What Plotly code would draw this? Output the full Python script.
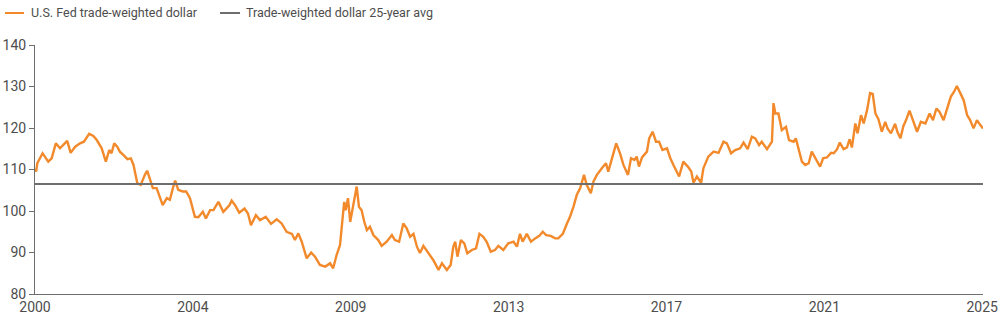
import plotly.graph_objects as go

# Years since 2000 (fractional) and index values
year_offsets = [
    0.00, 0.03, 0.06, 0.20, 0.26, 0.35, 0.44, 0.55, 0.66, 0.75, 0.85, 0.94,
    1.06, 1.19, 1.29, 1.43, 1.54, 1.63, 1.76, 1.87, 1.96, 2.02, 2.09, 2.17,
    2.24, 2.33, 2.44, 2.53, 2.60, 2.70, 2.79, 2.90, 2.96, 3.04, 3.11, 3.21,
    3.30, 3.37, 3.48, 3.56, 3.64, 3.70, 3.78, 3.90, 3.99, 4.09, 4.22, 4.31,
    4.43, 4.51, 4.62, 4.71, 4.84, 4.97, 5.13, 5.19, 5.28, 5.39, 5.53, 5.62,
    5.70, 5.83, 5.94, 6.09, 6.23, 6.38, 6.51, 6.64, 6.78, 6.86, 6.95, 7.04,
    7.17, 7.29, 7.39, 7.52, 7.66, 7.79, 7.87, 7.96, 8.05, 8.11, 8.16, 8.20,
    8.26, 8.32, 8.40, 8.49, 8.55, 8.62, 8.69, 8.76, 8.84, 8.93, 9.06, 9.15,
    9.28, 9.42, 9.50, 9.61, 9.72, 9.81, 9.90, 9.99, 10.08, 10.16, 10.25, 10.38,
    10.51, 10.65, 10.74, 10.87, 10.97, 11.04, 11.09, 11.15, 11.24, 11.33, 11.41, 11.53,
    11.64, 11.73, 11.83, 11.92, 12.03, 12.14, 12.23, 12.36, 12.49, 12.63, 12.72, 12.80,
    12.87, 12.98, 13.09, 13.20, 13.31, 13.40, 13.49, 13.61, 13.73, 13.81, 13.93, 14.04,
    14.12, 14.21, 14.30, 14.39, 14.49, 14.56, 14.67, 14.74, 14.83, 14.96, 15.07, 15.13,
    15.22, 15.34, 15.44, 15.53, 15.65, 15.73, 15.82, 15.88, 15.94, 16.02, 16.15, 16.21,
    16.30, 16.39, 16.47, 16.56, 16.68, 16.76, 16.85, 17.00, 17.11, 17.23, 17.32, 17.38,
    17.47, 17.58, 17.64, 17.77, 17.91, 18.04, 18.17, 18.26, 18.37, 18.48, 18.61, 18.70,
    18.81, 18.92, 19.01, 19.11, 19.18, 19.32, 19.45, 19.49, 19.54, 19.62, 19.71, 19.82,
    19.90, 20.02, 20.08, 20.15, 20.24, 20.33, 20.42, 20.50, 20.59, 20.72, 20.80, 20.90,
    21.01, 21.08, 21.17, 21.24, 21.34, 21.43, 21.50, 21.56, 21.65, 21.71, 21.80, 21.87,
    21.96, 22.04, 22.11, 22.18, 22.26, 22.35, 22.44, 22.50, 22.59, 22.70, 22.76, 22.84,
    22.92, 22.99, 23.08, 23.19, 23.28, 23.38, 23.50, 23.61, 23.70, 23.79, 23.87, 23.98,
    24.07, 24.17, 24.26, 24.33, 24.42, 24.51, 24.60, 24.68, 24.77, 24.86, 24.95, 25.02,
]

dollar_values = [
    110.2, 109.5, 111.5, 113.9, 113.1, 111.9, 112.7, 116.3, 115.1, 115.9, 116.9, 114.0,
    115.5, 116.3, 116.7, 118.6, 118.1, 117.1, 115.1, 111.9, 114.7, 113.9, 116.3, 115.5,
    114.3, 113.5, 112.5, 112.7, 111.1, 106.7, 106.3, 108.7, 109.7, 107.5, 105.5, 105.5,
    103.4, 101.4, 103.1, 102.7, 105.5, 107.3, 105.1, 104.7, 104.7, 103.1, 98.6, 98.5,
    99.8, 98.2, 100.2, 100.2, 102.2, 99.8, 101.4, 102.5, 101.4, 99.6, 100.6, 99.4,
    96.6, 99.0, 97.8, 98.6, 96.9, 98.0, 97.0, 95.0, 94.5, 93.0, 94.6, 92.6,
    88.6, 90.0, 89.0, 87.0, 86.6, 87.4, 86.2, 89.4, 91.8, 97.8, 102.2, 100.2,
    103.1, 97.4, 101.8, 105.9, 101.0, 100.2, 97.4, 95.4, 96.2, 94.2, 93.0, 91.6,
    92.6, 94.2, 93.0, 92.6, 97.0, 95.8, 93.8, 94.5, 91.4, 89.9, 91.6, 89.8,
    88.2, 85.8, 87.4, 85.8, 87.0, 91.4, 92.6, 89.0, 93.0, 92.2, 89.8, 90.6,
    91.0, 94.5, 93.8, 92.6, 90.2, 90.6, 91.6, 90.6, 92.2, 92.6, 91.4, 94.5,
    92.6, 94.5, 92.6, 93.4, 94.0, 95.0, 94.2, 94.0, 93.4, 93.4, 94.5, 97.0,
    98.6, 101.0, 103.9, 105.5, 108.7, 106.3, 104.3, 107.1, 108.7, 110.3, 111.5, 109.5,
    112.3, 116.3, 113.9, 111.1, 108.7, 112.7, 112.3, 113.1, 110.7, 112.9, 114.3, 117.5,
    119.1, 116.7, 116.7, 114.7, 115.1, 112.9, 111.1, 108.3, 111.9, 110.7, 109.5, 106.8,
    108.3, 106.8, 110.3, 113.1, 114.3, 114.0, 116.7, 116.3, 113.9, 114.7, 115.1, 116.5,
    114.9, 117.9, 117.5, 115.9, 116.7, 114.9, 116.7, 126.0, 123.5, 123.5, 119.5, 120.3,
    117.1, 116.7, 117.5, 114.7, 111.9, 111.1, 111.5, 114.3, 112.7, 110.7, 112.7, 112.9,
    114.0, 113.9, 114.9, 116.5, 114.9, 115.3, 117.3, 115.3, 121.1, 118.7, 123.1, 121.1,
    124.3, 128.4, 128.2, 123.5, 122.1, 119.1, 121.5, 119.9, 118.7, 121.0, 119.1, 117.5,
    120.5, 121.9, 124.2, 121.1, 119.1, 121.5, 121.1, 123.5, 121.9, 124.7, 123.9, 121.9,
    124.3, 127.5, 128.8, 130.1, 128.4, 126.7, 123.1, 121.9, 119.9, 121.9, 120.7, 119.9,
]

avg_25yr = 106.5
start_year = 2000
end_year = 2025.02

tick_positions = [0, 1, 2, 3, 4, 5, 6]
tick_labels = ["2000", "2004", "2009", "2013", "2017", "2021", "2025"]
y_ticks = [80, 90, 100, 110, 120, 130, 140]

series_names = ["U.S. Fed trade-weighted dollar", "Trade-weighted dollar 25-year avg"]

x_vals = [start_year + v for v in year_offsets]
tick_vals = [start_year + i * 25 / 6 for i in tick_positions]

ORANGE = "#F28A2C"
GREY = "#6E6E6E"
TEXT = "#4D4D4D"
FONT = "Roboto, Liberation Sans, sans-serif"

W, H = 1000, 324
ML, MR, MT, MB = 35, 17, 45, 30
PW, PH = W - ML - MR, H - MT - MB


def px_x(p):
    return (p - ML) / PW


def px_y(p):
    return (H - MB - p) / PH


fig = go.Figure()
fig.add_trace(go.Scatter(
    x=x_vals, y=dollar_values, mode="lines", name=series_names[0],
    line=dict(color=ORANGE, width=2.4), showlegend=False,
))
fig.add_trace(go.Scatter(
    x=[start_year, end_year], y=[avg_25yr, avg_25yr], mode="lines",
    name=series_names[1], line=dict(color=GREY, width=2), showlegend=False,
))

# Legend drawn manually to match the compact reference layout
legend_items = [(5, 24, 29, ORANGE, series_names[0]), (220, 240, 244, GREY, series_names[1])]
shapes, annots = [], []
for x0, x1, xt, col, name in legend_items:
    shapes.append(dict(type="line", xref="paper", yref="paper",
                       x0=px_x(x0), x1=px_x(x1), y0=px_y(13), y1=px_y(13),
                       line=dict(color=col, width=2)))
    annots.append(dict(text=name, xref="paper", yref="paper", x=px_x(xt), y=px_y(13),
                       xanchor="left", yanchor="middle", showarrow=False,
                       font=dict(family=FONT, size=12.5, color=TEXT)))

fig.update_layout(
    width=W, height=H,
    margin=dict(l=ML, r=MR, t=MT, b=MB),
    paper_bgcolor="white", plot_bgcolor="white",
    font=dict(family=FONT, color=TEXT, size=14),
    showlegend=False,
    shapes=shapes, annotations=annots,
    xaxis=dict(
        range=[start_year, end_year], tickvals=tick_vals, ticktext=tick_labels,
        showgrid=False, zeroline=False, showline=True, linecolor=GREY, linewidth=1,
        ticks="", tickfont=dict(size=14, color=TEXT), automargin=False,
    ),
    yaxis=dict(
        range=[80, 140], tickvals=y_ticks, showgrid=False, zeroline=False,
        showline=True, linecolor=GREY, linewidth=1,
        ticks="outside", ticklen=5, tickcolor=GREY, tickwidth=1,
        tickfont=dict(size=14, color=TEXT), automargin=False,
    ),
)

fig.write_html("out.html")
